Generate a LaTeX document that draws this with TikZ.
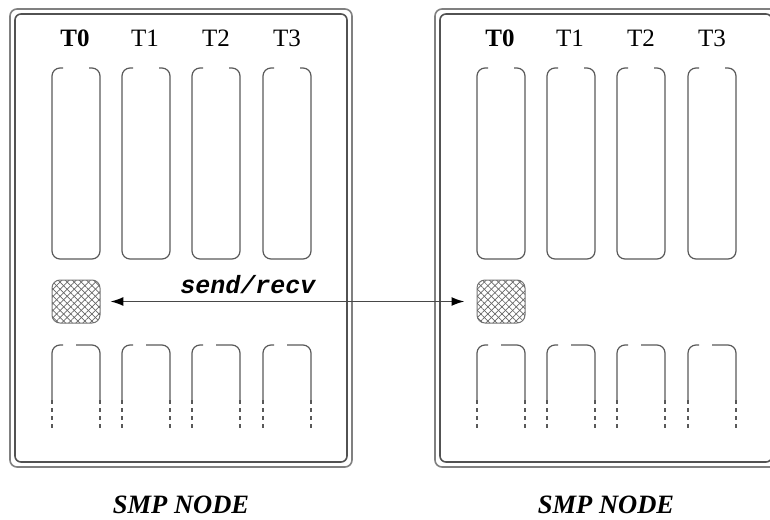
\documentclass[tikz,border=0pt]{standalone}
\usepackage{fontspec}
\setmainfont{Liberation Serif}
\setmonofont{Liberation Mono}
\usetikzlibrary{arrows.meta,patterns.meta}

\begin{document}
\begin{tikzpicture}[x=1pt,y=-1pt,
  frameout/.style={draw=black!50,line width=1.6pt,rounded corners=7pt},
  framein/.style={draw=black!68,line width=1.6pt,rounded corners=6pt},
  slotline/.style={draw=black!65,line width=1.2pt,rounded corners=8pt},
  slottail/.style={draw=black!65,line width=1.2pt,dash pattern=on 4pt off 4pt},
  thread/.style={anchor=base,font=\fontsize{25}{25}\selectfont},
  caption/.style={anchor=base,font=\bfseries\itshape\fontsize{26.5}{26.5}\selectfont},
  buffer/.style={draw=black!55,line width=1pt,rounded corners=8pt,
    minimum width=48pt,minimum height=43pt,inner sep=0pt,
    pattern={Lines[angle=45,distance=5pt,line width=0.7pt]},pattern color=black!60,
    postaction={pattern={Lines[angle=-45,distance=5pt,line width=0.7pt]},pattern color=black!60}},
  msg/.style={draw=black!72,line width=1.7pt,
    {Latex[length=13pt,width=9pt,black]}-{Latex[length=13pt,width=9pt,black]}}
]
\useasboundingbox (0,0) rectangle (770,519);

% two SMP nodes, each with four threads
\foreach \side/\dx in {L/0,R/425}{
  \begin{scope}[xshift=\dx]
    \draw[frameout] (10,9) rectangle (352,467);
    \draw[framein] (15,14) rectangle (347,462);
    \node[thread,font=\bfseries\fontsize{25}{25}\selectfont] (t0-\side) at (75,47) {T0};
    \node[thread] (t1-\side) at (145,47) {T1};
    \node[thread] (t2-\side) at (216,47) {T2};
    \node[thread] (t3-\side) at (287,47) {T3};
    \foreach \sx in {52,122,192,263}{
      % upper thread column
      \draw[slotline] (\sx+11,68) -- (\sx,68) -- (\sx,259) -- (\sx+48,259) -- (\sx+48,68) -- (\sx+37,68);
      % lower thread column, continued below
      \draw[slotline] (\sx+11,345) -- (\sx,345) -- (\sx,400);
      \draw[slotline] (\sx+24,345) -- (\sx+48,345) -- (\sx+48,400);
      \draw[slottail] (\sx,400) -- (\sx,430);
      \draw[slottail] (\sx+48,400) -- (\sx+48,430);
    }
    \node[buffer] (buf-\side) at (76,301.5) {};
    \node[caption] (cap-\side) at (181,513) {SMP NODE};
  \end{scope}
}

\draw[msg,shorten <=10pt,shorten >=12pt] (buf-L.east) -- (buf-R.west);
\node[anchor=base,font=\ttfamily\bfseries\itshape\fontsize{25}{25}\selectfont] (sr) at (248,293) {send/recv};
\end{tikzpicture}
\end{document}
